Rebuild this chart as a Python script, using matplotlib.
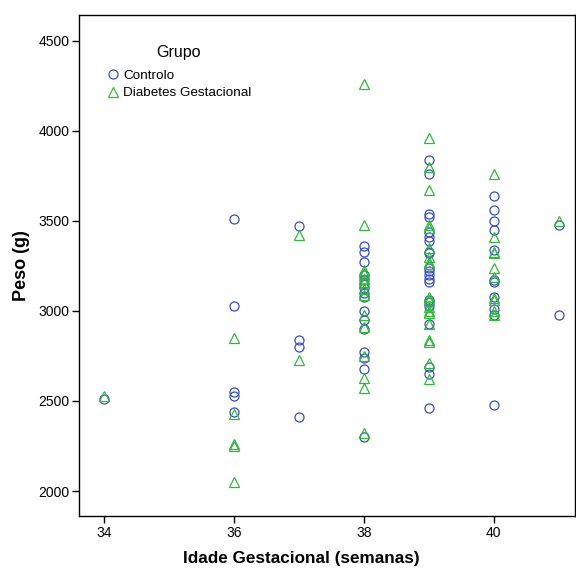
import matplotlib.pyplot as plt

plt.rcParams['font.family'] = ['Liberation Sans', 'DejaVu Sans']

# idade gestacional (semanas) e peso (g) por grupo
controlo_idade = [34,
                  36, 36, 36, 36, 36,
                  37, 37, 37, 37,
                  38, 38, 38, 38, 38, 38, 38, 38, 38, 38, 38, 38, 38, 38, 38, 38,
                  39, 39, 39, 39, 39, 39, 39, 39, 39, 39, 39, 39, 39, 39, 39, 39, 39, 39, 39, 39, 39,
                  40, 40, 40, 40, 40, 40, 40, 40, 40, 40, 40,
                  41, 41]
controlo_peso = [2510,
                 3510, 3030, 2550, 2530, 2440,
                 3470, 2840, 2800, 2410,
                 3360, 3330, 3270, 3200, 3170, 3150, 3130, 3100, 3080, 3000, 2950, 2900, 2770, 2740, 2680, 2300,
                 3840, 3760, 3540, 3520, 3440, 3410, 3390, 3330, 3320, 3240, 3220, 3200, 3180, 3160, 3060, 3050, 3030, 2930, 2690, 2650, 2460,
                 3640, 3560, 3500, 3450, 3340, 3170, 3160, 3080, 3010, 2980, 2480,
                 3480, 2980]

diabetes_idade = [34,
                  36, 36, 36, 36, 36,
                  37, 37,
                  38, 38, 38, 38, 38, 38, 38, 38, 38, 38, 38, 38, 38, 38,
                  39, 39, 39, 39, 39, 39, 39, 39, 39, 39, 39, 39, 39, 39, 39, 39, 39, 39, 39,
                  40, 40, 40, 40, 40, 40, 40, 40, 40, 40,
                  41]
diabetes_peso = [2530,
                 2850, 2430, 2260, 2250, 2050,
                 3420, 2730,
                 4260, 3480, 3230, 3210, 3180, 3160, 3120, 3090, 2980, 2910, 2750, 2630, 2570, 2320,
                 3960, 3800, 3670, 3480, 3460, 3350, 3300, 3270, 3260, 3080, 3060, 3020, 3000, 2990, 2930, 2840, 2830, 2710, 2620,
                 3760, 3410, 3330, 3320, 3240, 3190, 3070, 3060, 3000, 2980,
                 3500]

x_ticks = [34, 36, 38, 40]
y_ticks = [2000, 2500, 3000, 3500, 4000, 4500]

fig = plt.figure(figsize=(5.76, 5.68), dpi=100)
ax = fig.add_axes([0.1372, 0.0915, 0.861, 0.8821])

ax.plot(controlo_idade, controlo_peso, 'o', mfc='none', mec='#3a4fb5',
        ms=6.5, mew=0.9, ls='none', label='Controlo')
ax.plot(diabetes_idade, diabetes_peso, '^', mfc='none', mec='#2fb83c',
        ms=6.5, mew=0.9, ls='none', label='Diabetes Gestacional')

ax.set_xlim(33.615, 41.25)
ax.set_ylim(1861, 4644)
ax.set_xticks(x_ticks)
ax.set_yticks(y_ticks)
ax.tick_params(direction='out', length=5, width=1, labelsize=10, pad=2)
for s in ax.spines.values():
    s.set_linewidth(1.0)

ax.set_xlabel('Idade Gestacional (semanas)', fontsize=12.3, fontweight='bold')
ax.xaxis.set_label_coords(0.4476, -0.07)
ax.set_ylabel('Peso (g)', fontsize=13, fontweight='bold')
ax.yaxis.set_label_coords(-0.098, 0.5)

ax.legend(loc='upper left', bbox_to_anchor=(0.039, 0.902), frameon=False,
          fontsize=9.7, handletextpad=0.15, labelspacing=0.38, borderaxespad=0,
          handlelength=1.3)
ax.text(0.2, 0.925, 'Grupo', transform=ax.transAxes, fontsize=11.5,
        ha='center', va='center')

fig.savefig('out.png', dpi=100)
